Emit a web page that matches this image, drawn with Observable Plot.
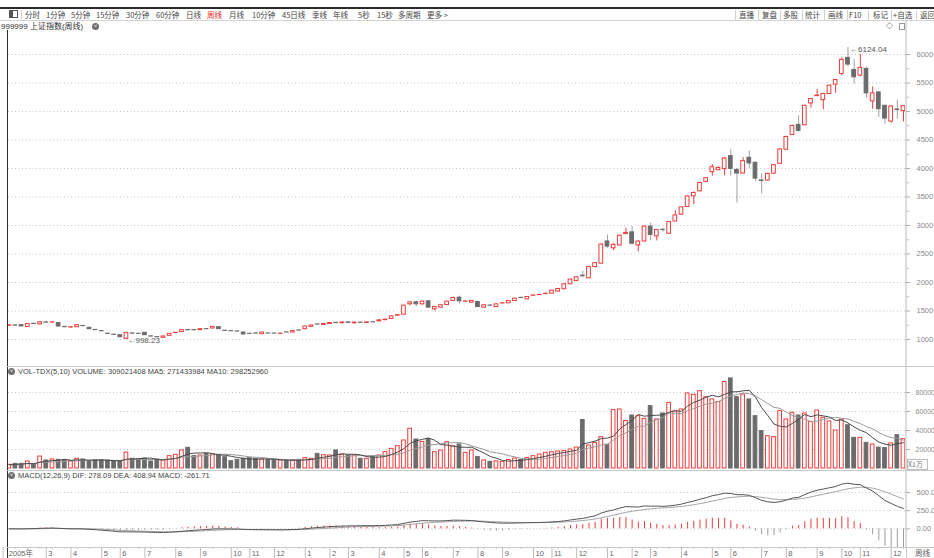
<!DOCTYPE html>
<html><head><meta charset="utf-8">
<script src="https://cdn.jsdelivr.net/npm/d3@7"></script>
<script src="https://cdn.jsdelivr.net/npm/@observablehq/plot@0.6"></script>
<style>
body{margin:0;background:#fff;}
#root{position:relative;width:934px;height:558px;overflow:hidden;background:#fff;font-family:"Liberation Sans",Arial,sans-serif;}
.ln{position:absolute;}
.tb{position:absolute;top:9px;height:11px;line-height:11px;font-size:7.5px;color:#444;font-family:"Noto Sans CJK SC",sans-serif;white-space:nowrap;}
.lbl{position:absolute;font-size:7.5px;color:#444;white-space:nowrap;line-height:9px;}
.ico{position:absolute;width:7px;height:7px;border-radius:50%;background:#6e6e6e;color:#fff;font-size:6px;line-height:6px;text-align:center;}
svg{position:absolute;left:0;}
</style></head>
<body><div id="root"></div>
<script>
// ---------- data (weekly, 上证指数 2005-01 .. 2007-12) ----------
const opens = [
1240,1246,1252,1218,1276,1266,1300,1298,1288,1220,
1212,1215,1238,1205,1168,1147,1102,1084,1075,1012,
1107,1101,1117,1055,1043,1029,1064,1115,1129,1166,
1165,1164,1182,1193,1216,1154,1147,1141,1123,1101,
1106,1094,1106,1106,1099,1124,1123,1159,1181,1222,
1264,1255,1272,1292,1286,1300,1285,1296,1290,1302,
1318,1340,1360,1418,1436,1618,1652,1617,1670,1529,
1559,1605,1676,1734,1662,1646,1658,1559,1596,1570,
1632,1635,1676,1730,1705,1768,1779,1797,1805,1840,
1881,1969,2027,2120,2074,2270,2330,2720,2600,2650,
2850,2880,2650,2720,2980,2810,2925,2855,3070,3190,
3325,3512,3600,3765,3935,3970,3990,4217,3976,3912,
4188,4100,3790,3790,3910,4082,4329,4588,4765,4759,
5141,5270,5200,5306,5471,5659,5941,5729,5629,5747,
5176,5335,5100,4823,5035,5006];
const closes = [
1248,1243,1230,1272,1273,1302,1297,1301,1228,1216,
1216,1250,1234,1180,1164,1144,1099,1081,1040,1117,
1104,1099,1076,1052,1040,1053,1100,1118,1164,1163,
1162,1181,1180,1222,1181,1151,1145,1139,1088,1099,
1104,1123,1104,1104,1102,1122,1146,1157,1228,1246,
1262,1272,1290,1288,1298,1292,1296,1292,1300,1300,
1336,1348,1405,1426,1594,1650,1617,1664,1559,1570,
1600,1664,1729,1670,1666,1676,1570,1600,1593,1617,
1636,1676,1717,1728,1746,1772,1783,1801,1857,1887,
1969,2051,2092,2110,2273,2340,2665,2630,2660,2820,
2870,2680,2718,2980,2835,2920,2920,3060,3176,3318,
3510,3570,3747,3830,4023,4010,4176,3994,3912,4129,
4088,3823,3780,3906,4059,4335,4553,4747,4659,5100,
5218,5280,5306,5453,5553,5906,5823,5600,5765,5318,
5318,5041,4876,5088,5025,5094];
const highs = [
1262,1258,1258,1280,1285,1310,1318,1310,1295,1230,
1225,1258,1245,1210,1175,1160,1110,1092,1080,1120,
1115,1110,1122,1062,1050,1058,1105,1125,1168,1178,
1172,1186,1190,1228,1220,1160,1155,1148,1126,1108,
1115,1126,1112,1112,1108,1130,1150,1165,1232,1250,
1272,1280,1298,1300,1305,1308,1302,1305,1306,1312,
1345,1360,1410,1440,1600,1665,1675,1672,1680,1580,
1610,1670,1740,1760,1675,1685,1665,1606,1610,1622,
1642,1682,1722,1745,1752,1780,1792,1818,1862,1893,
1972,2056,2100,2200,2280,2350,2680,2835,2680,2830,
2950,2980,2730,2990,3040,2930,2950,3070,3260,3325,
3520,3590,3760,3840,4070,4030,4190,4330,4000,4190,
4306,4110,3906,3915,4070,4345,4565,4760,4923,5110,
5230,5390,5320,5460,5560,5940,6124.04,5906,6000,5780,
5430,5340,5110,5100,5200,5100];
const lows = [
1232,1230,1222,1212,1262,1260,1288,1290,1222,1205,
1195,1210,1225,1175,1155,1132,1090,1070,1035,998.23,
1095,1090,1070,1042,1030,1022,1060,1108,1125,1150,
1155,1160,1172,1188,1176,1142,1138,1132,1084,1092,
1095,1090,1098,1098,1094,1116,1120,1150,1178,1218,
1255,1248,1265,1275,1278,1280,1270,1285,1285,1292,
1312,1330,1355,1405,1430,1595,1580,1605,1545,1500,
1550,1600,1670,1625,1652,1640,1560,1555,1580,1565,
1625,1630,1672,1715,1700,1762,1772,1790,1800,1835,
1875,1965,2020,2080,2070,2260,2325,2600,2560,2640,
2840,2660,2540,2710,2730,2730,2880,2850,3065,3180,
3320,3365,3590,3750,3865,3960,3870,3865,3394,3905,
4010,3776,3553,3780,3900,4075,4320,4580,4640,4750,
5060,5260,5030,5300,5320,5630,5780,5482,5610,5235,
5040,4894,4776,4800,4865,4818];
// volume, unit: 万
const volumes = [
3900,4900,4900,7400,3900,12600,8400,9500,9100,8800,
7700,10200,9500,7400,8800,8800,8400,7400,7400,16800,
10200,9500,10500,7400,9500,8400,13000,14400,19000,21800,
13000,13700,15400,14700,14400,11900,7700,9100,10200,11200,
10200,9500,8800,9100,8400,8400,8400,9100,10900,10200,
15400,14000,13700,19000,14700,13700,13700,10200,10200,11900,
13700,17200,20700,23500,29500,41800,30500,28000,31000,17200,
19000,27700,23200,25300,16500,19000,12000,8500,7000,7500,
7000,9000,10500,9000,11000,13000,14700,16500,17000,17900,
18500,20000,22100,51000,24200,27000,33000,25000,61400,62100,
50000,55800,55100,52300,65600,51600,57900,69100,60000,62100,
79000,77600,81400,75000,72700,70000,91000,94800,75100,77900,
72700,55100,39300,34000,33000,60400,51600,58600,55800,57900,
48800,61100,53400,49500,40000,51300,45500,32300,32300,27000,
25300,22000,21500,26400,35000,30902];

const priceTicks = [1000,1500,2000,2500,3000,3500,4000,4500,5000,5500,6000];
const priceMinor = [1250,1750,2250,2750,3250,3750,4250,4750,5250,5750];
const volTicks = [20000,40000,60000,80000];
const macdTicks = [0,250,500];
const macdTickText = ["0.00","250.0","500.0"];
const monthK = [0,7,11,16,19,23,28,32,37,40,44,49,53,56,61,65,68,73,77,81,86,89,93,98,102,105,110,115,118,123,127,132,136,139,144];
const monthLabels = ["2005年","3","4","5","6","7","8","9","10","11","12","1","2","3","4","5","6","7","8","9","10","11","12","1","2","3","4","5","6","7","8","9","10","11","12"];
const titleText = "999999 上证指数(周线)";
const volText = "VOL-TDX(5,10) VOLUME: 309021408 MA5: 271433984 MA10: 298252960";
const macdText = "MACD(12,26,9) DIF: 278.09 DEA: 408.94 MACD: -261.71";
const toolLeft = [["分时",25],["1分钟",46],["5分钟",71],["15分钟",96],["30分钟",126],["60分钟",156],["日线",186],["周线",207],["月线",229],["10分钟",252],["45日线",282],["季线",312],["年线",333],["5秒",358],["15秒",377],["多周期",398],["更多 >",427]];
const toolRight = [["直播",739],["复盘",762],["多股",783],["统计",805],["画线",828],["F10",849],["标记",873],["+自选",893],["返回",920]];
const toolSeps = [735,758,780,802,824,847,868,891,916];

// ---------- derived ----------
const UP = "#ef3b3b", DN = "#6b6b6b", DNW = "#a0a0a0";
const N = closes.length;
const candles = d3.range(N).map(i => ({k: i + 1, open: opens[i], close: closes[i], high: highs[i], low: lows[i], vol: volumes[i], up: closes[i] >= opens[i]}));
const maOf = (arr, n) => arr.map((_, i) => d3.mean(arr.slice(Math.max(0, i - n + 1), i + 1)));
const ma5 = maOf(volumes, 5), ma10 = maOf(volumes, 10);
let e12 = closes[0], e26 = closes[0], dea = 0;
candles.forEach((d, i) => {
  e12 = (2 * closes[i] + 11 * e12) / 13;
  e26 = (2 * closes[i] + 25 * e26) / 27;
  const dif = e12 - e26;
  dea = (2 * dif + 8 * dea) / 10;
  d.dif = dif; d.dea = dea; d.macd = 2 * (dif - dea);
  d.ma5 = ma5[i]; d.ma10 = ma10[i];
});
const minorWeeks = d3.range(0, N + 1, 2).filter(k => !monthK.includes(k));

const root = document.getElementById("root");
function add(html){ root.insertAdjacentHTML("beforeend", html); }
function line(l, t, w, h, c){ add(`<div class="ln" style="left:${l}px;top:${t}px;width:${w}px;height:${h}px;background:${c}"></div>`); }

// toolbar
line(0, 7, 934, 2, "#2a2a2a");
line(0, 20, 934, 1, "#d4d4d4");
add(`<div class="ln" style="left:9px;top:10px;width:7px;height:6px;border:1px solid #555;"></div><div class="ln" style="left:10px;top:11px;width:3px;height:6px;background:#555"></div>`);
line(21, 10, 1, 9, "#cfcfcf");
toolLeft.forEach(([t, x]) => add(`<div class="tb" style="left:${x}px;${t === "周线" ? "color:#f02020" : ""}">${t}</div>`));
toolRight.forEach(([t, x]) => add(`<div class="tb" style="left:${x}px">${t}</div>`));
toolSeps.forEach(x => line(x, 10, 1, 10, "#d0d0d0"));
add(`<div class="lbl" style="left:1px;top:22px;font-size:8px;font-family:'Liberation Sans','Noto Sans CJK SC',sans-serif;color:#333">${titleText}</div>`);
add(`<div class="ico" style="left:92px;top:23px">˅</div>`);
add(`<div class="lbl" style="left:886px;top:21px;font-size:9px;color:#888">◇</div><div class="ln" style="left:899px;top:23px;width:4px;height:5px;border:1px solid #999"></div>`);
// frame lines
line(7, 30, 1, 528, "#2d2d2d");
line(905, 21, 2, 526, "#dcdcdc");
line(7, 366, 927, 1, "#c8c8c8");
line(7, 470, 927, 1, "#c8c8c8");
line(7, 547, 927, 1, "#c8c8c8");
line(906, 547, 1, 11, "#c8c8c8");
add(`<div class="ico" style="left:8px;top:368px">˅</div><div class="lbl" style="left:18px;top:367px">${volText}</div>`);
add(`<div class="ico" style="left:8px;top:472px">˅</div><div class="lbl" style="left:18px;top:471px">${macdText}</div>`);
add(`<div class="lbl" style="left:907px;top:459px;width:19px;height:9px;border:1px solid #bbb;color:#777;font-family:'Noto Sans CJK SC',sans-serif;font-size:7px;line-height:9px">X1万</div>`);
add(`<div class="lbl" style="left:915px;top:548px;color:#555;font-family:'Noto Sans CJK SC',sans-serif;font-size:7.5px">周线</div>`);

const xOpt = {type: "linear", domain: [0, N], range: [2.6, 2.6 + 6.167 * N], axis: null};
const baseStyle = {background: "transparent", fontFamily: "Liberation Sans, Arial, sans-serif", fontSize: "7.5px", color: "#8a8a8a", overflow: "visible"};
const grid = ticks => Plot.gridY(ticks, {stroke: "#c4c4c4", strokeOpacity: 1, strokeDasharray: "1,2.5"});
const plain = d => String(d);

// price panel
const price = Plot.plot({
  width: 934, height: 346, marginLeft: 8, marginRight: 29, marginTop: 0, marginBottom: 0,
  x: xOpt, y: {domain: [1000, 6000], range: [319, 34]}, style: baseStyle,
  marks: [
    grid(priceTicks),
    Plot.axisY(priceTicks, {anchor: "right", tickSize: 4, tickPadding: 7, stroke: "#b0b0b0", fill: "#8a8a8a", tickFormat: plain}),
    Plot.axisY(priceMinor, {anchor: "right", tickSize: 3, tickFormat: () => "", stroke: "#c0c0c0"}),
    Plot.ruleX(candles, {x: "k", y1: "low", y2: "high", stroke: d => d.up ? UP : DNW, strokeWidth: 1, clip: true}),
    Plot.rect(candles, {x1: d => d.k - 0.3, x2: d => d.k + 0.3, y1: "open", y2: "close", fill: d => d.up ? "#fff" : DN, stroke: d => d.up ? UP : DN, strokeWidth: 1, clip: true}),
    Plot.text([d3.greatest(candles, d => d.high)], {x: "k", y: "high", text: d => "←" + d.high.toFixed(2), textAnchor: "start", dx: 2, dy: 2, fill: "#555", fontSize: 8}),
    Plot.text([d3.least(candles, d => d.low)], {x: "k", y: "low", text: d => "←" + d.low.toFixed(2), textAnchor: "start", dx: 1, dy: 1, fill: "#555", fontSize: 8})
  ]
});
price.style.top = "20px";
root.appendChild(price);

// volume panel
const vol = Plot.plot({
  width: 934, height: 104, marginLeft: 8, marginRight: 29, marginTop: 0, marginBottom: 0,
  x: xOpt, y: {domain: [0, 80000], range: [102, 26]}, style: baseStyle,
  marks: [
    grid(volTicks),
    Plot.axisY(volTicks, {anchor: "right", tickSize: 4, tickPadding: 6, stroke: "#b0b0b0", fill: "#8a8a8a", tickFormat: plain, fontSize: 7}),
    Plot.rect(candles, {x1: d => d.k - 0.3, x2: d => d.k + 0.3, y1: 0, y2: "vol", fill: d => d.up ? "#fff" : DN, stroke: d => d.up ? UP : DN, strokeWidth: 1, clip: true}),
    Plot.line(candles, {x: "k", y: "ma10", stroke: "#9a9a9a", strokeWidth: 1, clip: true}),
    Plot.line(candles, {x: "k", y: "ma5", stroke: "#4a4a4a", strokeWidth: 1, clip: true})
  ]
});
vol.style.top = "366px";
root.appendChild(vol);

// MACD panel
const macd = Plot.plot({
  width: 934, height: 77, marginLeft: 8, marginRight: 29, marginTop: 0, marginBottom: 0,
  x: xOpt, y: {domain: [0, 500], range: [58.3, 22]}, style: baseStyle,
  marks: [
    grid(macdTicks),
    Plot.axisY(macdTicks, {anchor: "right", tickSize: 4, tickPadding: 7, stroke: "#b0b0b0", fill: "#8a8a8a", tickFormat: (d, i) => macdTickText[i]}),
    Plot.ruleX(candles, {x: "k", y1: 0, y2: "macd", stroke: d => d.macd >= 0 ? UP : "#9c9c9c", strokeWidth: 1, clip: true}),
    Plot.line(candles, {x: "k", y: "dea", stroke: "#a6a6a6", strokeWidth: 1, clip: true}),
    Plot.line(candles, {x: "k", y: "dif", stroke: "#555", strokeWidth: 1, clip: true})
  ]
});
macd.style.top = "470px";
root.appendChild(macd);

// time axis strip
const axis = Plot.plot({
  width: 934, height: 11, marginLeft: 8, marginRight: 29, marginTop: 0, marginBottom: 0,
  x: xOpt, y: {domain: [0, 11], range: [0, 11], axis: null}, style: baseStyle,
  marks: [
    Plot.ruleX(monthK, {x: d => d, stroke: "#bdbdbd"}),
    Plot.ruleX(minorWeeks, {x: d => d, y1: 0, y2: 2, stroke: "#c8c8c8"}),
    Plot.text(monthK, {x: d => Math.max(d, 0.6), text: (d, i) => monthLabels[i], frameAnchor: "middle", textAnchor: "start", dx: 2, dy: 0.5, fill: "#666", fontSize: 7.5, fontFamily: "Liberation Sans, Noto Sans CJK SC, sans-serif"})
  ]
});
axis.style.top = "547px";
root.appendChild(axis);
</script>
</body></html>
